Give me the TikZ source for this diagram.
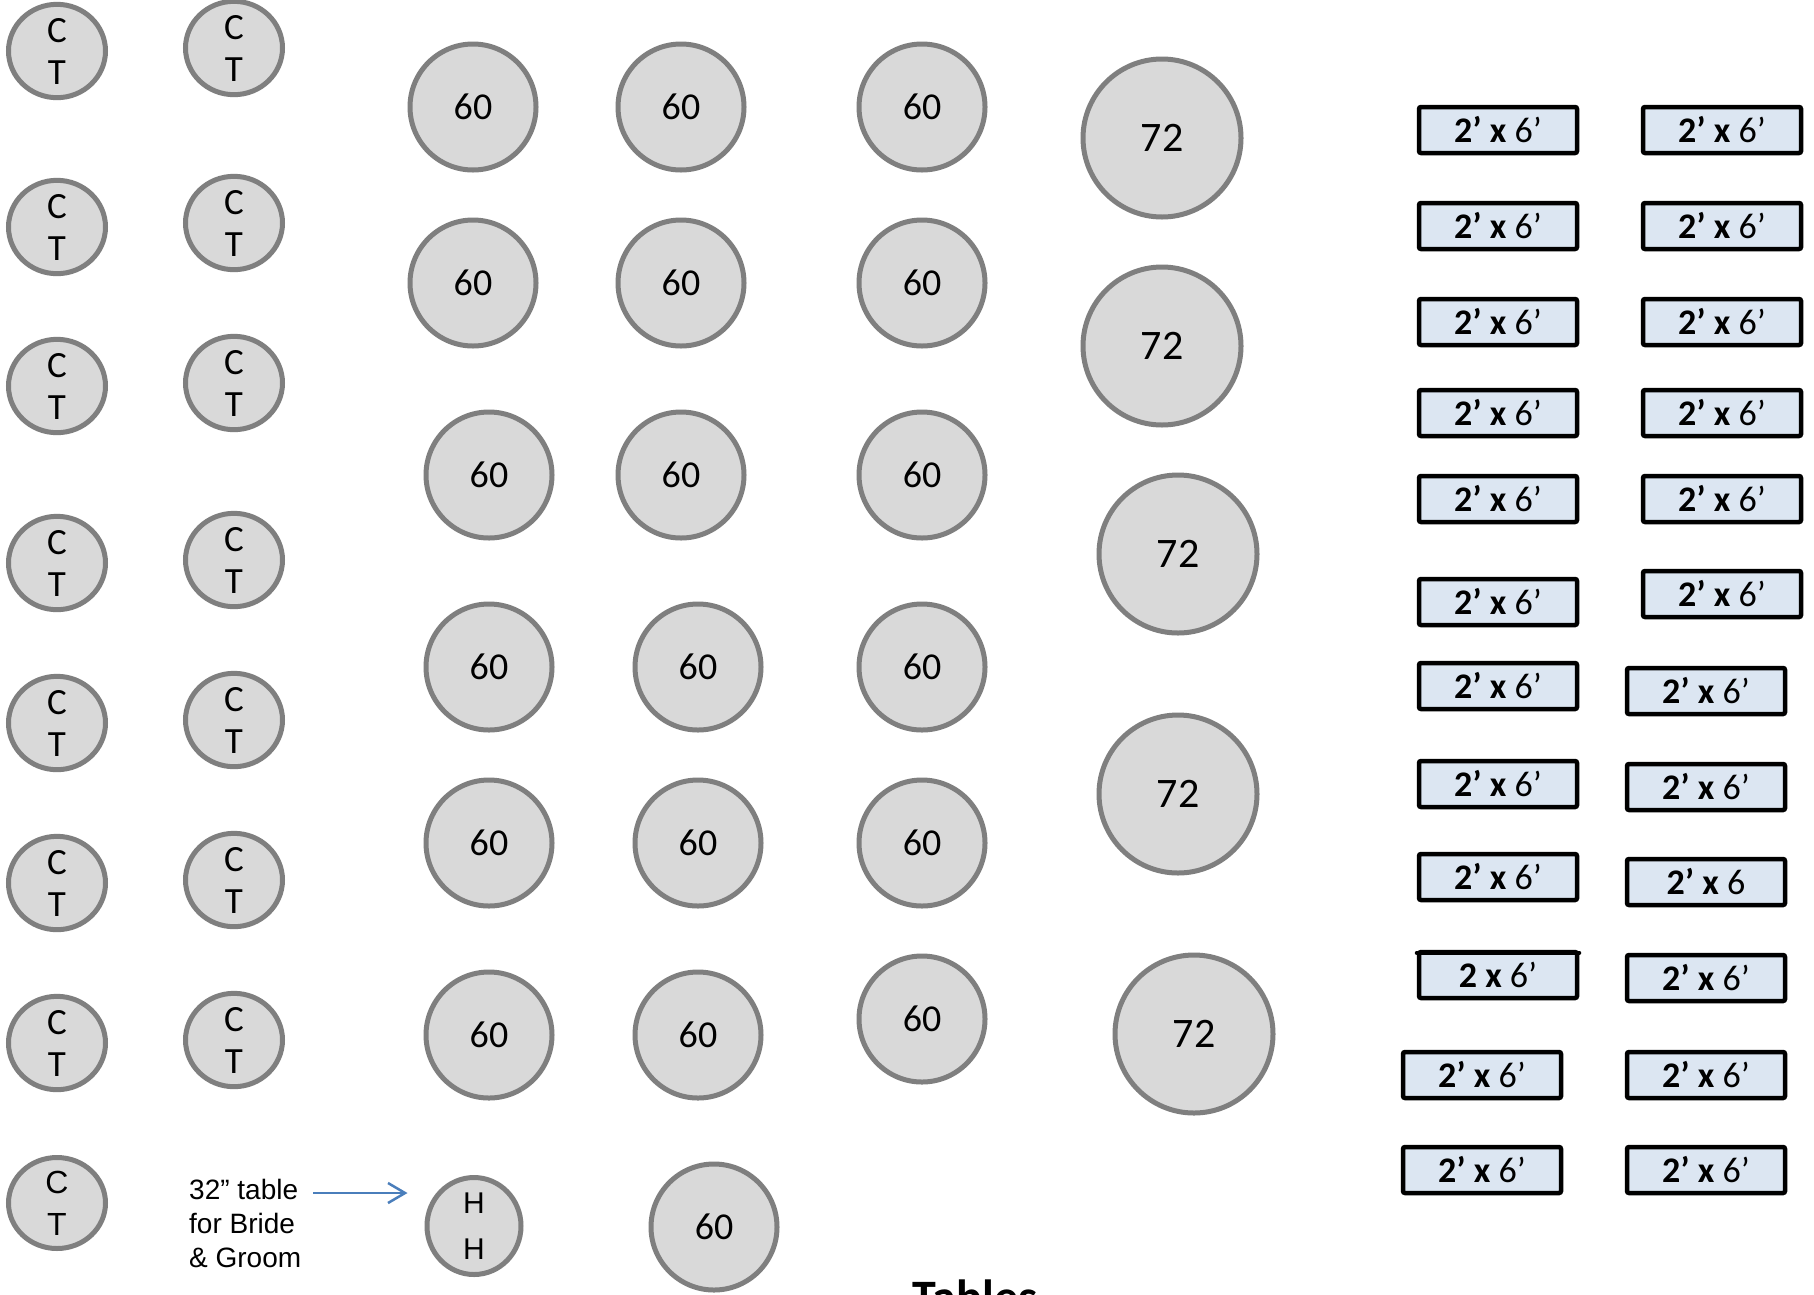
\documentclass[tikz,border=0pt]{standalone}
\usepackage{fontspec}
\setmainfont{Carlito}
\newfontfamily\arialfont{Liberation Sans}
\usetikzlibrary{shapes.geometric, arrows.meta}

\definecolor{tablegray}{HTML}{D9D9D9}
\definecolor{rimgray}{HTML}{7F7F7F}
\definecolor{tableblue}{HTML}{DCE6F2}
\definecolor{arrowblue}{HTML}{4A7EBB}

\tikzstyle{cocktail} = [
    ellipse,
    minimum width=97pt,
    minimum height=84pt,
    inner sep=0pt,
    align=center,
    draw=rimgray,
    line width=5pt,
    fill=tablegray,
    font=\fontsize{37}{42}\selectfont
]
\tikzstyle{round60} = [
    circle,
    minimum size=126pt,
    inner sep=0pt,
    draw=rimgray,
    line width=5pt,
    fill=tablegray,
    font=\fontsize{38}{44}\selectfont
]
\tikzstyle{round72} = [
    circle,
    minimum size=158pt,
    inner sep=0pt,
    draw=rimgray,
    line width=5pt,
    fill=tablegray,
    font=\fontsize{42}{50}\selectfont
]
\tikzstyle{headtable} = [
    ellipse,
    minimum width=94pt,
    minimum height=97pt,
    inner sep=0pt,
    align=center,
    draw=rimgray,
    line width=5pt,
    fill=tablegray,
    font=\arialfont\fontsize{30}{46}\selectfont
]
\tikzstyle{banquet} = [
    rectangle,
    rounded corners=2pt,
    minimum width=158pt,
    minimum height=46pt,
    inner sep=0pt,
    draw=black,
    line width=4.5pt,
    fill=tableblue,
    font=\fontsize{36}{40}\selectfont
]
\tikzstyle{arrow} = [line width=2.5pt, draw=arrowblue, -{Straight Barb[length=17pt,width=20pt]}]

\newcommand{\twosix}{{\bfseries 2’ x} 6’}

\begin{document}
\begin{tikzpicture}[x=1pt, y=-1pt]
\useasboundingbox [fill=white] (0,0) rectangle (1814,1294);

% cocktail tables
\node (ct1) [cocktail] at (57,51) {C\\T};
\node (ct2) [cocktail] at (57,227) {C\\T};
\node (ct3) [cocktail] at (57,386) {C\\T};
\node (ct4) [cocktail] at (57,563) {C\\T};
\node (ct5) [cocktail] at (57,723) {C\\T};
\node (ct6) [cocktail] at (57,883) {C\\T};
\node (ct7) [cocktail] at (57,1043) {C\\T};
\node (ct8) [cocktail, font=\arialfont\fontsize{32}{42}\selectfont] at (57,1203) {C\\T};

\node (ct9) [cocktail] at (234,48) {C\\T};
\node (ct10) [cocktail] at (234,223) {C\\T};
\node (ct11) [cocktail] at (234,383) {C\\T};
\node (ct12) [cocktail] at (234,560) {C\\T};
\node (ct13) [cocktail] at (234,720) {C\\T};
\node (ct14) [cocktail] at (234,880) {C\\T};
\node (ct15) [cocktail] at (234,1040) {C\\T};

% 60 inch rounds
\node (ra1) [round60] at (473,107) {60};
\node (ra2) [round60] at (473,283) {60};
\node (ra3) [round60] at (489,475) {60};
\node (ra4) [round60] at (489,667) {60};
\node (ra5) [round60] at (489,843) {60};
\node (ra6) [round60] at (489,1035) {60};

\node (rb1) [round60] at (681,107) {60};
\node (rb2) [round60] at (681,283) {60};
\node (rb3) [round60] at (681,475) {60};
\node (rb4) [round60] at (698,667) {60};
\node (rb5) [round60] at (698,843) {60};
\node (rb6) [round60] at (698,1035) {60};
\node (rb7) [round60] at (714,1227) {60};

\node (rc1) [round60] at (922,107) {60};
\node (rc2) [round60] at (922,283) {60};
\node (rc3) [round60] at (922,475) {60};
\node (rc4) [round60] at (922,667) {60};
\node (rc5) [round60] at (922,843) {60};
\node (rc6) [round60] at (922,1019) {60};

% 72 inch rounds
\node (rd1) [round72] at (1162,138) {72};
\node (rd2) [round72] at (1162,346) {72};
\node (rd3) [round72] at (1178,554) {72};
\node (rd4) [round72] at (1178,794) {72};
\node (rd5) [round72] at (1194,1034) {72};

% head table
\node (hh) [headtable] at (474,1226) {H\\H};
\node (note) [align=left, anchor=base west, inner sep=0pt,
    font=\arialfont\fontsize{28}{34}\selectfont] at (189,1267)
{32” table\\for Bride\\\& Groom};
\coordinate (arrowtail) at (313,1193);
\draw [arrow] (arrowtail) -- ([xshift=-17pt]hh.west |- arrowtail);

% 2 x 6 banquet tables
\node (bl1) [banquet] at (1498,130) {\twosix};
\node (bl2) [banquet] at (1498,226) {\twosix};
\node (bl3) [banquet] at (1498,322) {\twosix};
\node (bl4) [banquet] at (1498,413) {\twosix};
\node (bl5) [banquet] at (1498,499) {\twosix};
\node (bl6) [banquet] at (1498,602) {\twosix};
\node (bl7) [banquet] at (1498,686) {\twosix};
\node (bl8) [banquet] at (1498,784) {\twosix};
\node (bl9) [banquet] at (1498,877) {\twosix};
\node (bl10) [banquet] at (1498,975) {{\bfseries 2 x} 6’};
\draw [line width=4pt, line cap=round] ([yshift=-3pt]bl10.north west) -- ([yshift=-3pt]bl10.north east);
\node (bl11) [banquet] at (1482,1075) {\twosix};
\node (bl12) [banquet] at (1482,1170) {\twosix};

\node (br1) [banquet] at (1722,130) {\twosix};
\node (br2) [banquet] at (1722,226) {\twosix};
\node (br3) [banquet] at (1722,322) {\twosix};
\node (br4) [banquet] at (1722,413) {\twosix};
\node (br5) [banquet] at (1722,499) {\twosix};
\node (br6) [banquet] at (1722,594) {\twosix};
\node (br7) [banquet] at (1706,691) {\twosix};
\node (br8) [banquet] at (1706,787) {\twosix};
\node (br9) [banquet] at (1706,882) {{\bfseries 2’ x} 6};
\node (br10) [banquet] at (1706,978) {\twosix};
\node (br11) [banquet] at (1706,1075) {\twosix};
\node (br12) [banquet] at (1706,1170) {\twosix};

% title, cut off by the page edge
\node (title) [anchor=base, inner sep=0pt, font=\bfseries\fontsize{48}{56}\selectfont]
    at (975,1313) {Tables};

\end{tikzpicture}
\end{document}
